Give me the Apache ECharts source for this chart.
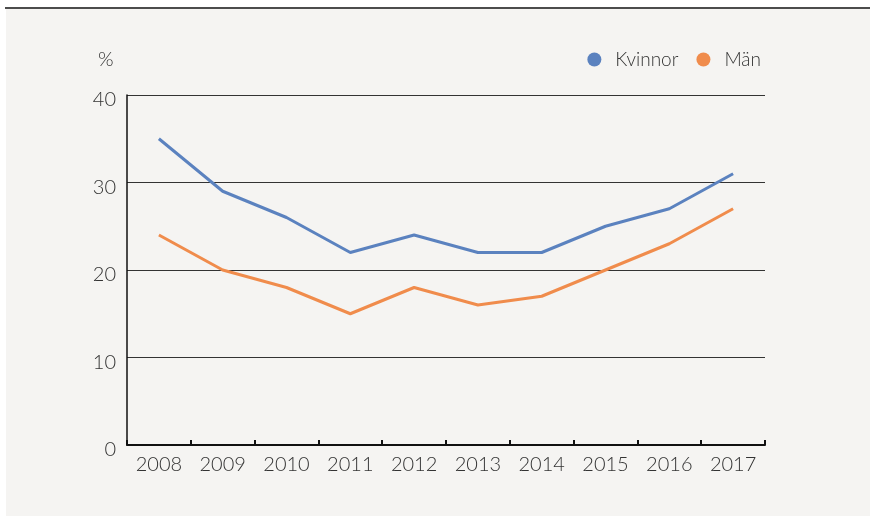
<!DOCTYPE html>
<html><head><meta charset="utf-8">
<script src="https://cdn.jsdelivr.net/npm/echarts@6/dist/echarts.min.js"></script>
<style>html,body{margin:0;padding:0;background:#fff}#c{width:870px;height:519px}</style>
</head><body><div id="c"></div>
<script>
const years = ['2008','2009','2010','2011','2012','2013','2014','2015','2016','2017'];
const kvinnor = [35,29,26,22,24,22,22,25,27,31];
const man = [24,20,18,15,18,16,17,20,23,27];
const yTicks = [0,10,20,30,40];
const font = 'Lato, "Open Sans", sans-serif';
const chart = echarts.init(document.getElementById('c'));
chart.setOption({
  backgroundColor: '#ffffff',
  animation: false,
  graphic: [
    {type:'rect', shape:{x:6,y:9,width:864,height:507}, style:{fill:'#f5f4f2'}, z:-10},
    {type:'line', shape:{x1:5,y1:8,x2:870,y2:8}, style:{stroke:'#111',lineWidth:1.5}, z:-5},
    {type:'text', left:98, top:50, style:{text:'%', font:'300 20px '+font, fill:'#333'}}
  ],
  legend: {
    right: 104, top: 45, itemWidth: 14, itemHeight: 14, itemGap: 18,
    icon: 'circle',
    textStyle: {fontFamily: font, fontWeight: 300, fontSize: 19, color: '#333', padding:[0,0,0,9]},
    data: ['Kvinnor','Män']
  },
  grid: {left: 127, right: 105, top: 95, bottom: 74},
  xAxis: {
    type: 'category', data: years, boundaryGap: true,
    axisLine: {lineStyle: {color: '#111', width: 2}},
    axisTick: {show: true, length: 5, inside: true, lineStyle: {color: '#111', width: 2}, interval: 0},
    axisLabel: {color: '#333', fontFamily: font, fontWeight: 300, fontSize: 20, margin: 10, interval: 0},
    splitLine: {show: false}
  },
  yAxis: {
    type: 'value', min: 0, max: 40, interval: 10,
    axisLine: {show: true, lineStyle: {color: '#111', width: 1.5}},
    axisTick: {show: false},
    axisLabel: {color: '#333', fontFamily: font, fontWeight: 300, fontSize: 20, margin: 11,
      verticalAlign: 'top', lineHeight: 10,
      formatter: v => yTicks.includes(v) ? String(v) : ''},
    splitLine: {show: true, lineStyle: {color: '#333', width: 1}}
  },
  series: [
    {name:'Kvinnor', type:'line', data:kvinnor, symbol:'none', color:'#5b82bf', lineStyle:{width:3, color:'#5b82bf'}},
    {name:'Män', type:'line', data:man, symbol:'none', color:'#f08c4c', lineStyle:{width:3, color:'#f08c4c'}}
  ]
});
</script></body></html>
